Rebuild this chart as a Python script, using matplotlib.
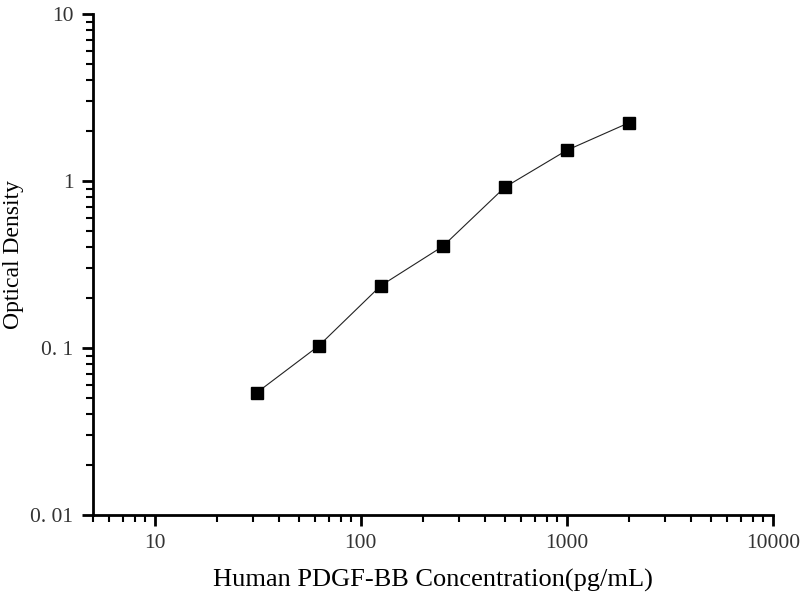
import matplotlib
matplotlib.use("Agg")
import matplotlib.pyplot as plt
from matplotlib.ticker import FixedLocator, FixedFormatter, LogLocator, NullFormatter

# standard curve values
concentration = [31.25, 62.5, 125, 250, 500, 1000, 2000]
optical_density = [0.054, 0.103, 0.236, 0.406, 0.917, 1.527, 2.23]

x_ticks = [10, 100, 1000, 10000]
x_tick_labels = ["10", "100", "1000", "10000"]
y_ticks = [0.01, 0.1, 1, 10]
y_tick_labels = ["0. 01", "0. 1", "1", "10"]

plt.rcParams["font.family"] = ["Liberation Serif", "DejaVu Serif"]

figure = plt.figure(figsize=(8, 6), dpi=100)
axis = figure.add_axes([0.116, 0.1417, 0.85, 0.835])

axis.plot(concentration, optical_density, color="#222222", linewidth=0.8,
          marker="s", markersize=8, markerfacecolor="black",
          markeredgecolor="black")

axis.set_xscale("log")
axis.set_yscale("log")
axis.set_xlim(5, 10000)
axis.set_ylim(0.01, 10)

axis.xaxis.set_major_locator(FixedLocator(x_ticks))
axis.xaxis.set_major_formatter(FixedFormatter(x_tick_labels))
axis.yaxis.set_major_locator(FixedLocator(y_ticks))
axis.yaxis.set_major_formatter(FixedFormatter(y_tick_labels))
axis.xaxis.set_minor_locator(LogLocator(base=10, subs=range(2, 10), numticks=20))
axis.yaxis.set_minor_locator(LogLocator(base=10, subs=range(2, 10), numticks=20))
axis.xaxis.set_minor_formatter(NullFormatter())
axis.yaxis.set_minor_formatter(NullFormatter())

for side in ("top", "right"):
    axis.spines[side].set_visible(False)
for side in ("left", "bottom"):
    axis.spines[side].set_linewidth(2)

axis.tick_params(which="major", direction="out", length=8, width=2,
                 labelsize=15.5, colors="black", pad=6)
axis.tick_params(which="minor", direction="out", length=5, width=1.5)
for label in axis.get_xticklabels() + axis.get_yticklabels():
    label.set_color("#333333")

axis.set_xlabel("Human PDGF-BB Concentration(pg/mL)", fontsize=19, labelpad=11)
axis.set_ylabel("Optical Density", fontsize=17)
axis.yaxis.set_label_coords(-0.101, 0.519)

figure.savefig("out.png", dpi=100)
